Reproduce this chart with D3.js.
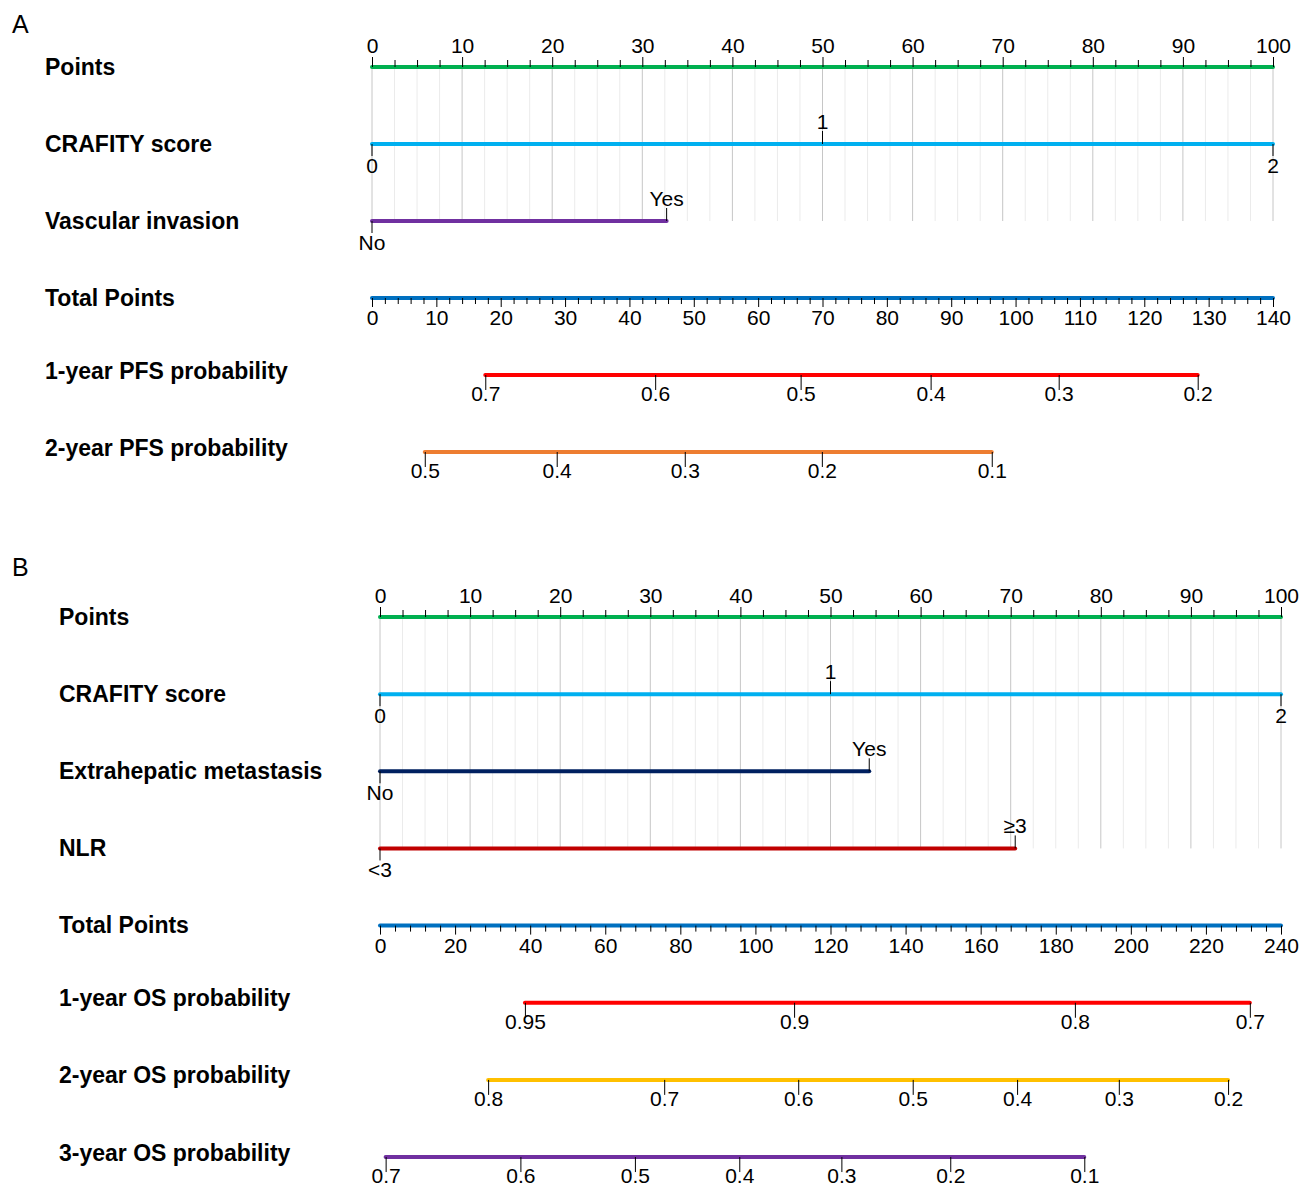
<!DOCTYPE html>
<html>
<head>
<meta charset="utf-8">
<script src="https://cdn.jsdelivr.net/npm/d3@7/dist/d3.min.js"></script>
<style>
  body { margin: 0; background: #fff; }
  .panelLetter { font-family: "Liberation Sans", Arial, sans-serif; font-size: 25px; }
  .rowLabel { font-family: "Liberation Sans", Arial, sans-serif; font-weight: bold; font-size: 23px; }
  .tick text, .lvl { font-family: "Liberation Sans Narrow", "Liberation Sans", Arial, sans-serif; font-size: 21px; fill: #000; }
  .tick line { stroke: #000; }
</style>
</head>
<body>
<div class="chart"></div>
<script>
// ---------------- Panel A : PFS nomogram ----------------
var pointsTicks = d3.range(0, 101, 10);
var crafityLevels = ["0", "1", "2"];
var crafityPointsA = [0, 50, 100];
var vascularLevels = ["No", "Yes"];
var vascularPoints = [0, 32.7];
var totalMaxA = 140;
// probability ticks and the total points they sit at
var pfs1Probs = [0.7, 0.6, 0.5, 0.4, 0.3, 0.2];
var pfs1Total = [17.6, 44.0, 66.6, 86.8, 106.7, 128.3];
var pfs2Probs = [0.5, 0.4, 0.3, 0.2, 0.1];
var pfs2Total = [8.2, 28.7, 48.6, 69.9, 96.3];

// ---------------- Panel B : OS nomogram ----------------
var crafityPointsB = [0, 50, 100];
var extraLevels = ["No", "Yes"];
var extraPoints = [0, 54.3];
var nlrLevels = ["<3", "\u22653"];
var nlrPoints = [0, 70.5];
var totalMaxB = 240;
var os1Probs = [0.95, 0.9, 0.8, 0.7];
var os1Total = [38.6, 110.3, 185.1, 231.7];
var os2Probs = [0.8, 0.7, 0.6, 0.5, 0.4, 0.3, 0.2];
var os2Total = [28.8, 75.7, 111.4, 141.9, 169.7, 196.8, 225.9];
var os3Probs = [0.7, 0.6, 0.5, 0.4, 0.3, 0.2, 0.1];
var os3Total = [1.5, 37.4, 67.9, 95.7, 122.9, 151.9, 187.6];

var panelA = {
  letter: "A", letterY: 33, labelX: 45,
  left: 372, right: 1273, rowTop: 67, rowStep: 77,
  pointsColor: "#00b050",
  predictors: [
    { name: "CRAFITY score", levels: crafityLevels, points: crafityPointsA, color: "#00b0f0" },
    { name: "Vascular invasion", levels: vascularLevels, points: vascularPoints, color: "#7030a0" }
  ],
  totalMax: totalMaxA, totalMinor: 2, totalMajor: 10, totalColor: "#0070c0",
  outcomes: [
    { name: "1-year PFS probability", probs: pfs1Probs, total: pfs1Total, color: "#ff0000" },
    { name: "2-year PFS probability", probs: pfs2Probs, total: pfs2Total, color: "#ed7d31" }
  ]
};

var panelB = {
  letter: "B", letterY: 576, labelX: 59,
  left: 380, right: 1281, rowTop: 617, rowStep: 77.15,
  pointsColor: "#00b050",
  predictors: [
    { name: "CRAFITY score", levels: crafityLevels, points: crafityPointsB, color: "#00b0f0" },
    { name: "Extrahepatic metastasis", levels: extraLevels, points: extraPoints, color: "#002060" },
    { name: "NLR", levels: nlrLevels, points: nlrPoints, color: "#c00000" }
  ],
  totalMax: totalMaxB, totalMinor: 4, totalMajor: 20, totalColor: "#0070c0",
  outcomes: [
    { name: "1-year OS probability", probs: os1Probs, total: os1Total, color: "#ff0000" },
    { name: "2-year OS probability", probs: os2Probs, total: os2Total, color: "#ffc000" },
    { name: "3-year OS probability", probs: os3Probs, total: os3Total, color: "#7030a0" }
  ]
};

var svg = d3.select(".chart").append("svg")
  .attr("width", 1299)
  .attr("height", 1188);

drawPanel(panelA);
drawPanel(panelB);

function drawPanel(p) {
  var g = svg.append("g");
  var x = d3.scaleLinear().domain([0, 100]).range([p.left, p.right]);
  var xTotal = d3.scaleLinear().domain([0, p.totalMax]).range([p.left, p.right]);
  var rowY = function (i) { return p.rowTop + p.rowStep * i; };
  var nPred = p.predictors.length;

  g.append("text")
    .attr("class", "panelLetter")
    .attr("x", 12)
    .attr("y", p.letterY)
    .text(p.letter);

  //Vertical grid, from the points scale down to the last predictor
  g.append("g").selectAll("line")
    .data(d3.range(0, 100.01, 2.5))
    .enter().append("line")
    .attr("x1", function (d) { return x(d); })
    .attr("x2", function (d) { return x(d); })
    .attr("y1", rowY(0))
    .attr("y2", rowY(nPred))
    .style("stroke", function (d) { return d % 10 === 0 ? "#c6c6c6" : "#ebebeb"; })
    .style("stroke-width", 1);

  // ---- Points row ----
  rowLabel(g, "Points", rowY(0));
  g.append("line")
    .attr("x1", x(0)).attr("x2", x(100))
    .attr("y1", rowY(0)).attr("y2", rowY(0))
    .style("stroke", p.pointsColor).style("stroke-width", 4).style("stroke-linecap", "round");
  g.append("g")
    .attr("transform", "translate(0," + rowY(0) + ")")
    .call(d3.axisTop(x).tickValues(d3.range(0, 100, 2.5).filter(function (d) { return d % 10 !== 0; }))
      .tickSize(7).tickFormat(""))
    .call(function (a) { a.select(".domain").remove(); });
  g.append("g")
    .attr("transform", "translate(0," + rowY(0) + ")")
    .call(d3.axisTop(x).tickValues(pointsTicks).tickSize(10).tickPadding(4))
    .call(function (a) { a.select(".domain").remove(); });

  // ---- Predictor rows ----
  p.predictors.forEach(function (pr, i) {
    var y = rowY(i + 1);
    rowLabel(g, pr.name, y);
    g.append("line")
      .attr("x1", x(d3.min(pr.points))).attr("x2", x(d3.max(pr.points)))
      .attr("y1", y).attr("y2", y)
      .style("stroke", pr.color).style("stroke-width", 4).style("stroke-linecap", "round");
    var lv = g.append("g").selectAll("g")
      .data(pr.levels)
      .enter().append("g")
      .attr("transform", function (d, j) { return "translate(" + x(pr.points[j]) + "," + y + ")"; });
    // levels alternate below / above the line
    lv.append("line")
      .attr("y1", 0)
      .attr("y2", function (d, j) { return j % 2 === 0 ? 12 : -13; })
      .style("stroke", "#000");
    lv.append("text")
      .attr("class", "lvl")
      .attr("text-anchor", "middle")
      .attr("y", function (d, j) { return j % 2 === 0 ? 29 : -15; })
      .text(function (d) { return d; });
  });

  // ---- Total points row ----
  var yT = rowY(nPred + 1);
  rowLabel(g, "Total Points", yT);
  g.append("line")
    .attr("x1", xTotal(0)).attr("x2", xTotal(p.totalMax))
    .attr("y1", yT).attr("y2", yT)
    .style("stroke", p.totalColor).style("stroke-width", 4).style("stroke-linecap", "round");
  g.append("g")
    .attr("transform", "translate(0," + yT + ")")
    .call(d3.axisBottom(xTotal)
      .tickValues(d3.range(0, p.totalMax + 0.01, p.totalMinor).filter(function (d) { return d % p.totalMajor !== 0; }))
      .tickSize(6).tickFormat(""))
    .call(function (a) { a.select(".domain").remove(); });
  g.append("g")
    .attr("transform", "translate(0," + yT + ")")
    .call(d3.axisBottom(xTotal).tickValues(d3.range(0, p.totalMax + 0.01, p.totalMajor)).tickSize(9).tickPadding(3))
    .call(function (a) { a.select(".domain").remove(); });

  // ---- Probability rows ----
  p.outcomes.forEach(function (o, i) {
    var y = rowY(nPred + 2 + i);
    rowLabel(g, o.name, y - 4);
    var sc = d3.scaleLinear().domain(o.probs).range(o.total.map(xTotal));
    g.append("line")
      .attr("x1", sc(o.probs[0])).attr("x2", sc(o.probs[o.probs.length - 1]))
      .attr("y1", y).attr("y2", y)
      .style("stroke", o.color).style("stroke-width", 4).style("stroke-linecap", "round");
    g.append("g")
      .attr("transform", "translate(0," + y + ")")
      .call(d3.axisBottom(sc).tickValues(o.probs).tickSize(15).tickPadding(-4)
        .tickFormat(function (d) { return String(d); }))
      .call(function (a) { a.select(".domain").remove(); });
  });

  function rowLabel(sel, txt, y) {
    sel.append("text")
      .attr("class", "rowLabel")
      .attr("x", p.labelX)
      .attr("y", y)
      .attr("dy", "0.33em")
      .text(txt);
  }
}
</script>
</body>
</html>
